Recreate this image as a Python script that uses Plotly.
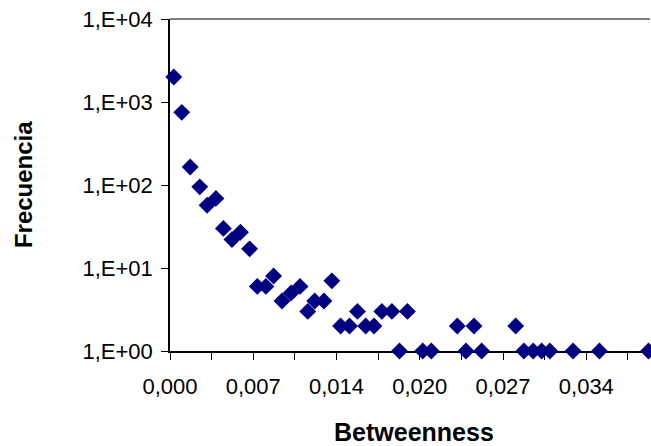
import plotly.graph_objects as go

betweenness = [0.00031, 0.00096, 0.00165, 0.00243, 0.00303, 0.00375, 0.00436, 0.00506,
               0.00575, 0.00650, 0.00713, 0.00783, 0.00846, 0.00915, 0.00989, 0.01062,
               0.01125, 0.01182, 0.01257, 0.01322, 0.01393, 0.01466, 0.01531, 0.01598,
               0.01666, 0.01730, 0.01812, 0.01874, 0.01939, 0.02064, 0.02134, 0.02346,
               0.02417, 0.02483, 0.02545, 0.02823, 0.02890, 0.02966, 0.03035, 0.03102,
               0.03292, 0.03507, 0.03908]
frecuencia = [2000, 750, 165, 95, 57, 69, 30, 22,
              27, 17, 6, 6, 8, 4, 5, 6,
              3, 4, 4, 7, 2, 2, 3, 2,
              2, 3, 3, 1, 3, 1, 1, 2,
              1, 2, 1, 2, 1, 1, 1, 1,
              1, 1, 1]

x_tickvals = [0.0, 0.0034, 0.0068, 0.0102, 0.0136, 0.0170, 0.0204, 0.0238,
              0.0272, 0.0306, 0.0340, 0.0374]
x_ticktext = ["0,000", "", "0,007", "", "0,014", "", "0,020", "",
              "0,027", "", "0,034", ""]
y_tickvals = [1, 10, 100, 1000, 10000]
y_ticktext = ["1,E+00", "1,E+01", "1,E+02", "1,E+03", "1,E+04"]

fig = go.Figure()
fig.add_trace(go.Scatter(
    x=betweenness, y=frecuencia, mode="markers",
    marker=dict(symbol="diamond", size=13, color="#000080", line=dict(width=0)),
    cliponaxis=False, showlegend=False, hoverinfo="x+y"))

font = "Liberation Sans, Arial, sans-serif"
fig.update_layout(
    width=651, height=446,
    margin=dict(l=170, r=1, t=19, b=95, autoexpand=False),
    paper_bgcolor="white", plot_bgcolor="white",
    font=dict(family=font, color="black"),
    xaxis=dict(range=[0, 0.0392], tickvals=x_tickvals, ticktext=x_ticktext,
               showgrid=False, zeroline=False, showline=True, linecolor="black",
               linewidth=1.5, ticks="outside", ticklen=7, tickwidth=1, tickcolor="black",
               tickfont=dict(size=22, family=font, color="black"),
               ticklabelstandoff=8, ticklabeloverflow="allow",
               layer="below traces", automargin=False),
    yaxis=dict(type="log", range=[0, 4], tickvals=y_tickvals, ticktext=y_ticktext,
               showgrid=False, zeroline=False, showline=True, linecolor="black",
               linewidth=1.5, ticks="outside", ticklen=7, tickwidth=1, tickcolor="black",
               tickfont=dict(size=22, family=font, color="black"),
               ticklabelstandoff=4, ticklabeloverflow="allow",
               layer="below traces", automargin=False),
    shapes=[dict(type="line", xref="paper", yref="paper", x0=0, x1=1, y0=1, y1=1,
                 line=dict(color="#808080", width=2), layer="below")],
    annotations=[
        dict(text="<b>Frecuencia</b>", xref="paper", yref="paper", x=-0.306, y=0.5,
             xanchor="center", yanchor="middle", textangle=-90, showarrow=False,
             font=dict(size=24, family=font, color="black")),
        dict(text="<b>Betweenness</b>", xref="paper", yref="paper", x=0.508, y=-0.244,
             xanchor="center", yanchor="middle", showarrow=False,
             font=dict(size=25, family=font, color="black")),
    ],
)

fig.write_html(
    "out.html",
    config={"displayModeBar": False},
    post_script="document.body.style.margin='0';document.body.style.overflow='hidden';",
)
